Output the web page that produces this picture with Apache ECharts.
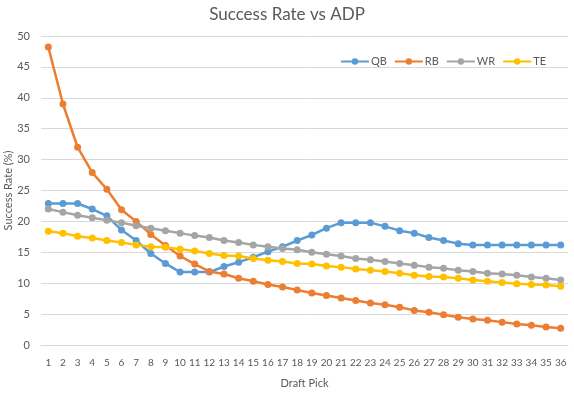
<!DOCTYPE html>
<html><head><meta charset="utf-8">
<script src="https://cdn.jsdelivr.net/npm/echarts@6/dist/echarts.min.js"></script>
<style>html,body{margin:0;padding:0;background:#fff}#c{width:574px;height:394px}</style>
</head><body><div id="c"></div>
<script>
const picks = Array.from({length:36},(_,i)=>String(i+1));
const qb = [22.9,22.9,22.9,22.0,20.9,18.6,16.9,14.8,13.2,11.8,11.8,11.8,12.7,13.4,14.2,15.1,15.9,16.9,17.8,18.9,19.8,19.8,19.8,19.2,18.5,18.1,17.4,16.9,16.4,16.2,16.2,16.2,16.2,16.2,16.2,16.2];
const rb = [48.2,39.0,32.0,27.9,25.2,21.9,20.0,17.9,16.1,14.4,13.1,11.9,11.5,10.8,10.3,9.8,9.4,8.9,8.4,8.0,7.6,7.2,6.8,6.5,6.1,5.6,5.3,4.9,4.5,4.2,4.0,3.7,3.4,3.2,2.9,2.7];
const wr = [22.0,21.5,21.0,20.6,20.2,19.8,19.3,18.9,18.5,18.1,17.7,17.4,16.9,16.6,16.2,15.9,15.6,15.4,15.0,14.7,14.4,14.0,13.8,13.5,13.2,12.9,12.6,12.4,12.1,11.9,11.6,11.5,11.3,11.0,10.8,10.5];
const te = [18.4,18.1,17.6,17.3,16.9,16.6,16.2,15.9,15.8,15.5,15.2,14.8,14.5,14.4,14.0,13.7,13.5,13.2,13.1,12.8,12.6,12.3,12.1,11.9,11.6,11.3,11.1,11.0,10.8,10.5,10.3,10.1,9.9,9.8,9.7,9.5];
const seriesNames = ['QB','RB','WR','TE'];
const seriesData = [qb, rb, wr, te];
const colors = ['#5B9BD5','#ED7D31','#A5A5A5','#FFC000'];
const yTicks = {min:0, max:50, interval:5};

const font = 'Lato, "Open Sans", sans-serif';
const chart = echarts.init(document.getElementById('c'));
chart.setOption({
  animation:false,
  textStyle:{fontFamily:font},
  title:{text:'Success Rate vs ADP', left:'center', top:1,
    textStyle:{fontFamily:font, fontSize:17, fontWeight:'normal', color:'#595959'}},
  legend:{top:51, right:23, itemWidth:28, itemHeight:8, itemGap:7,
    textStyle:{fontFamily:font, fontSize:11, color:'#595959', padding:[0,0,0,-3]},
    data:seriesNames},
  grid:{left:41, right:6, top:36, bottom:49, containLabel:false, outerBoundsMode:'none'},
  xAxis:{type:'category', data:picks, boundaryGap:true,
    name:'Draft Pick', nameLocation:'middle', nameGap:33, nameMoveOverlap:false,
    nameTextStyle:{fontFamily:font, fontSize:11, color:'#595959'},
    axisLine:{lineStyle:{color:'#D9D9D9'}}, axisTick:{show:false},
    axisLabel:{interval:0, fontSize:10, color:'#595959', margin:13}},
  yAxis:{type:'value', min:yTicks.min, max:yTicks.max, interval:yTicks.interval,
    name:'Success Rate (%)', nameLocation:'middle', nameGap:27, nameMoveOverlap:false,
    nameTextStyle:{fontFamily:font, fontSize:11, color:'#595959'},
    axisLine:{show:false}, axisTick:{show:false},
    axisLabel:{fontSize:11, color:'#595959', margin:11},
    splitLine:{lineStyle:{color:'#D9D9D9'}}},
  series: seriesNames.map((n,i)=>({
    name:n, type:'line', data:seriesData[i], symbol:'circle', symbolSize:7,
    lineStyle:{width:2.5, color:colors[i]}, itemStyle:{color:colors[i]}
  }))
});
</script></body></html>
